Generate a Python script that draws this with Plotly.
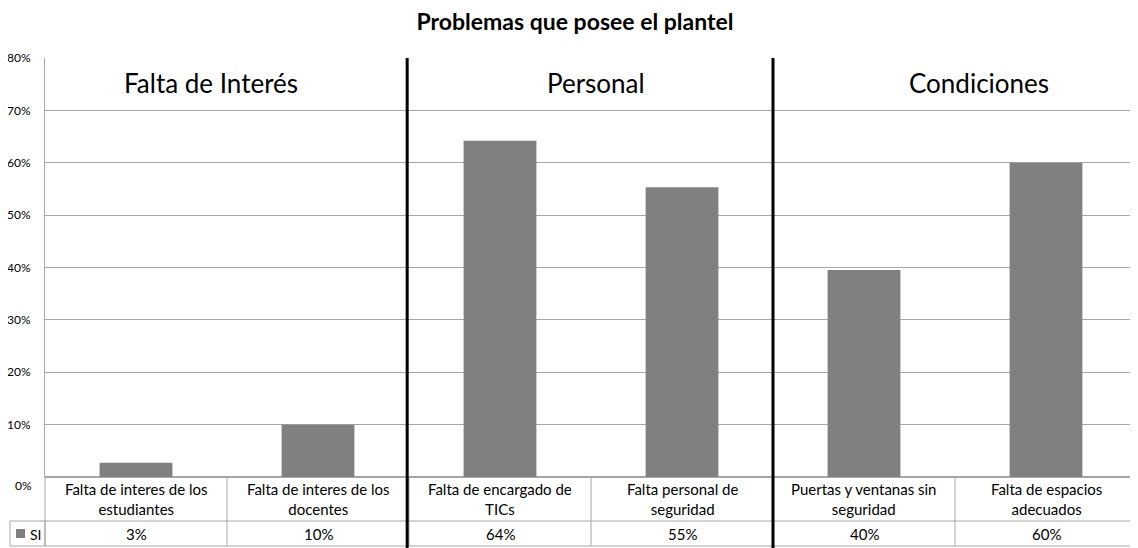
import plotly.graph_objects as go

categories = ["Falta de interes de los<br>estudiantes", "Falta de interes de los<br>docentes",
              "Falta de encargado de<br>TICs", "Falta personal de<br>seguridad",
              "Puertas y ventanas sin<br>seguridad", "Falta de espacios<br>adecuados"]
values = [0.027, 0.10, 0.642, 0.553, 0.395, 0.60]
value_labels = ["3%", "10%", "64%", "55%", "40%", "60%"]
groups = ["Falta de Interés", "Personal", "Condiciones"]
group_x = [0.41, 2.53, 4.63]
y_ticks = [0.1, 0.2, 0.3, 0.4, 0.5, 0.6, 0.7, 0.8]
series_name = "SI"
title = "Problemas que posee el plantel"

FONT = "Lato, 'Open Sans', sans-serif"
GRID = "#a6a6a6"
BAR = "#808080"

# page has an 8px body margin: figure drawn 8px in from the window edge
OFF = 8
W, H = 1138 - OFF, 548 - OFF
L, T = 45 - OFF, 58 - OFF
B = H - (477 - OFF)
PW = W - L - 1
PH = H - T - B

def py(p):  # reference pixel y -> paper y
    return (477 - p) / PH

def px(p):  # reference pixel x -> paper x
    return (p - 45) / PW

xs = list(range(len(values)))
fig = go.Figure()
fig.add_trace(go.Bar(x=xs, y=values, width=0.4, marker=dict(color=BAR, line=dict(width=0)),
                     name=series_name, showlegend=False))

ann = []
shapes = []
row1_bot = py(521)
row2_bot = py(546)
for i, (c, v) in enumerate(zip(categories, value_labels)):
    ann.append(dict(x=i, y=py(499), xref="x", yref="paper", text=c, showarrow=False,
                    font=dict(size=15, color="#000", family=FONT), align="center",
                    xanchor="center", yanchor="middle"))
    ann.append(dict(x=i, y=py(534), xref="x", yref="paper", text=v, showarrow=False,
                    font=dict(size=15, color="#000", family=FONT),
                    xanchor="center", yanchor="middle"))
# 0% label sits a little below the baseline in the reference
ann.append(dict(x=px(34), y=py(486), xref="paper", yref="paper", text="0%", showarrow=False,
                font=dict(size=12, color="#000", family=FONT), xanchor="right", yanchor="middle"))
# table cell separators
for b in [0.5, 1.5, 2.5, 3.5, 4.5]:
    shapes.append(dict(type="line", xref="x", yref="paper", x0=b, x1=b, y0=0, y1=row2_bot,
                       line=dict(color=GRID, width=1)))
for yy in [row1_bot, row2_bot]:
    shapes.append(dict(type="line", xref="x", yref="paper", x0=-0.5, x1=5.6, y0=yy, y1=yy,
                       line=dict(color=GRID, width=1)))
# legend cell
shapes.append(dict(type="rect", xref="paper", yref="paper", x0=px(10), x1=0, y0=row2_bot, y1=row1_bot,
                   line=dict(color=GRID, width=1)))
shapes.append(dict(type="line", xref="paper", yref="paper", x0=0, x1=0, y0=row2_bot, y1=0,
                   line=dict(color=GRID, width=1)))
shapes.append(dict(type="rect", xref="paper", yref="paper", x0=px(16), x1=px(25), y0=py(538), y1=py(529),
                   fillcolor=BAR, line=dict(width=0)))
ann.append(dict(x=px(28), y=py(534), xref="paper", yref="paper", text=series_name, showarrow=False,
                font=dict(size=14, color="#000", family=FONT), xanchor="left", yanchor="middle"))
# thick group separators
for b in [1.49, 3.5]:
    shapes.append(dict(type="line", xref="x", yref="paper", x0=b, x1=b, y0=1, y1=py(552),
                       line=dict(color="#000", width=3)))
# group labels
for g, gx in zip(groups, group_x):
    ann.append(dict(x=gx, y=py(83), xref="x", yref="paper", text=g, showarrow=False,
                    font=dict(size=26, color="#000", family=FONT), xanchor="center", yanchor="middle"))

fig.update_layout(
    width=W, height=H,
    margin=dict(l=L, r=1, t=T, b=B, pad=0, autoexpand=False),
    paper_bgcolor="white", plot_bgcolor="white",
    title=dict(text="<b>" + title + "</b>", x=(575 - OFF) / W, xanchor="center",
               y=1 - (22 - OFF) / H, yanchor="middle",
               font=dict(size=23, color="#000", family=FONT)),
    xaxis=dict(range=[-0.5, -0.5 + PW / 182.0], showticklabels=False, showgrid=False,
               zeroline=False, showline=False, ticks="", automargin=False),
    yaxis=dict(range=[0, 0.8], tickvals=y_ticks, tickformat=".0%", showgrid=True, gridcolor=GRID,
               gridwidth=1, showline=True, linecolor=GRID, linewidth=1, zeroline=True,
               zerolinecolor=GRID, ticks="", ticklen=0, ticklabelstandoff=11, automargin=False,
               tickfont=dict(size=12, color="#000", family=FONT)),
    annotations=ann, shapes=shapes,
    bargap=0.6,
)
fig.write_html("out.html")
